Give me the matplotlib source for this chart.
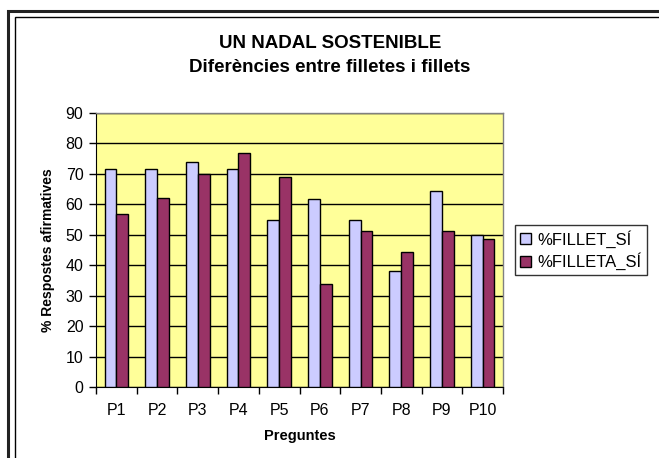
import matplotlib
matplotlib.use("Agg")
import matplotlib.pyplot as plt
import numpy as np
from matplotlib.patches import Rectangle

plt.rcParams['font.family'] = ['Liberation Sans', 'DejaVu Sans']

categories = ["P1", "P2", "P3", "P4", "P5", "P6", "P7", "P8", "P9", "P10"]
fillet_si = [71.4, 71.4, 73.8, 71.4, 54.8, 61.8, 54.8, 38.1, 64.3, 50.0]
filleta_si = [56.7, 62.0, 69.8, 76.7, 68.9, 33.9, 51.1, 44.4, 51.1, 48.5]
series_names = ["%FILLET_SÍ", "%FILLETA_SÍ"]
yticks = list(range(0, 91, 10))

W, H = 659, 458
fig = plt.figure(figsize=(W / 100, H / 100), dpi=100)
fig.patch.set_facecolor("white")

# outer frames (cropped at right/bottom)
fig.add_artist(Rectangle((8 / W, -0.1), 1.2, (H - 11) / H + 0.1, transform=fig.transFigure,
                         fill=False, edgecolor="#222222", linewidth=2.2))
fig.add_artist(Rectangle((15 / W, -0.1), 1.2, (H - 17) / H + 0.1, transform=fig.transFigure,
                         fill=False, edgecolor="black", linewidth=1.0))

left, right, top, bottom = 96, 503, 112.7, 387.3
ax = fig.add_axes([left / W, 1 - bottom / H, (right - left) / W, (bottom - top) / H])
ax.set_facecolor("#FFFF99")

x = np.arange(len(categories))
w = 0.29
ax.bar(x - w / 2, fillet_si, w, color="#CCCCFF", edgecolor="black", linewidth=1.0,
       label=series_names[0], zorder=3)
ax.bar(x + w / 2, filleta_si, w, color="#993366", edgecolor="black", linewidth=1.0,
       label=series_names[1], zorder=3)

ax.set_xlim(-0.5, len(categories) - 0.5)
ax.set_ylim(0, 90)
ax.set_yticks(yticks)
ax.yaxis.grid(True, color="black", linewidth=1.0, zorder=1)
ax.set_axisbelow(True)

ax.set_xticks(np.arange(-0.5, len(categories), 1.0))
ax.set_xticklabels([])
ax.set_xticks(x, minor=True)
ax.set_xticklabels(categories, minor=True, fontsize=11.5)
ax.tick_params(axis="x", which="minor", length=0, pad=11)
ax.tick_params(axis="x", which="major", length=5, width=1, direction="out")
ax.tick_params(axis="y", length=5, width=1, direction="out", labelsize=11.5, pad=4)

for s in ["top", "right"]:
    ax.spines[s].set_color("#808080")
    ax.spines[s].set_linewidth(1.0)
ax.spines["left"].set_color("black")
ax.spines["bottom"].set_color("black")

ax.set_ylabel("% Respostes afirmatives", fontsize=10, fontweight="bold", labelpad=8)
ax.set_xlabel("Preguntes", fontsize=10.5, fontweight="bold", labelpad=8)

fig.text(330 / W, 1 - 43 / H, "UN NADAL SOSTENIBLE", ha="center", va="center",
         fontsize=13.5, fontweight="bold")
fig.text(330 / W, 1 - 67 / H, "Diferències entre filletes i fillets", ha="center",
         va="center", fontsize=13.5, fontweight="bold")

leg = ax.legend(loc="center left", bbox_to_anchor=(515 / W, 1 - 250 / H),
                bbox_transform=fig.transFigure, fontsize=12, frameon=True, fancybox=False,
                edgecolor="black", handlelength=0.65, handleheight=0.65, handletextpad=0.4,
                borderpad=0.3, labelspacing=0.3, borderaxespad=0)
leg.get_frame().set_linewidth(1.0)

fig.savefig("out.png", dpi=100)
